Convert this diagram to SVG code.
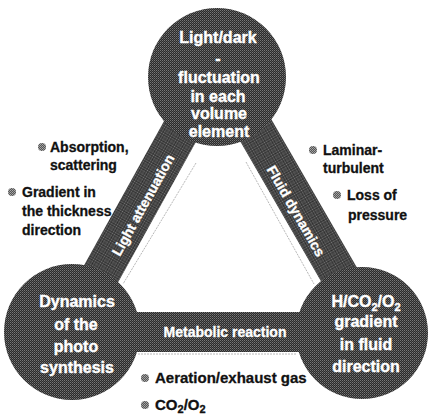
<svg xmlns="http://www.w3.org/2000/svg" width="430" height="414" viewBox="0 0 430 414">
<defs>
<pattern id="dither" width="2" height="2" patternUnits="userSpaceOnUse">
<rect width="2" height="2" fill="#2a2a2a"/>
<rect x="0" y="0" width="1" height="1" fill="#777"/>
<rect x="1" y="1" width="1" height="1" fill="#555"/>
</pattern>
<pattern id="dotfill" width="2" height="2" patternUnits="userSpaceOnUse">
<rect width="2" height="2" fill="#555"/>
<rect x="0" y="0" width="1" height="1" fill="#aaa"/>
<rect x="1" y="1" width="1" height="1" fill="#999"/>
</pattern>
</defs>
<style>
.shape{fill:url(#dither)}
.wt{fill:#fff;stroke:#fff;stroke-width:0.4;font-family:"Liberation Sans",Arial,sans-serif;font-weight:bold;font-size:16px;text-anchor:middle}
.bt{fill:#fff;stroke:#fff;stroke-width:0.3;font-family:"Liberation Sans",Arial,sans-serif;font-weight:bold;font-size:14px;text-anchor:middle}
.lab{fill:#111;stroke:#111;stroke-width:0.3;font-family:"Liberation Sans",Arial,sans-serif;font-weight:bold;font-size:14px}
.labb{fill:#111;stroke:#111;stroke-width:0.3;font-family:"Liberation Sans",Arial,sans-serif;font-weight:bold;font-size:15px}
.bul{fill:url(#dotfill)}
.shadow{stroke:#b8b8b8;stroke-width:1;stroke-dasharray:2 1;fill:none}
</style>
<rect width="430" height="414" fill="#fff"/>
<g id="connectors">
<line class="shadow" x1="196" y1="163" x2="123" y2="284"/>
<line class="shadow" x1="246" y1="162" x2="314" y2="284"/>
<line class="shadow" x1="138" y1="354" x2="297" y2="354"/>
<g id="bar-left">
<rect class="shape" x="-125" y="-19" width="250" height="38" transform="translate(142,200) rotate(-61)"/>
<text class="bt" transform="translate(143,205) rotate(-61)" y="5">Light attenuation</text>
</g>
<g id="bar-right">
<rect class="shape" x="-125" y="-19" width="250" height="38" transform="translate(296,200) rotate(60)"/>
<text class="bt" transform="translate(296,211) rotate(60)" y="5">Fluid dynamics</text>
</g>
<g id="bar-bottom">
<rect class="shape" x="115" y="312" width="200" height="40"/>
<text class="bt" x="225" y="337">Metabolic reaction</text>
</g>
</g>
<g id="node-top">
<circle class="shape" cx="217" cy="77" r="69"/>
<text class="wt" x="218" y="43">Light/dark</text>
<text class="wt" x="218" y="64">-</text>
<text class="wt" x="219" y="83">fluctuation</text>
<text class="wt" x="218" y="102">in each</text>
<text class="wt" x="219" y="119">volume</text>
<text class="wt" x="219" y="137">element</text>
</g>
<g id="node-left">
<circle class="shape" cx="72" cy="332" r="68"/>
<text class="wt" x="77" y="307">Dynamics</text>
<text class="wt" x="76" y="330">of the</text>
<text class="wt" x="76" y="352">photo</text>
<text class="wt" x="77" y="373">synthesis</text>
</g>
<g id="node-right">
<circle class="shape" cx="362" cy="333" r="66"/>
<text class="wt" x="366" y="307">H/CO<tspan font-size="11" dy="4">2</tspan><tspan dy="-4">/O</tspan><tspan font-size="11" dy="4">2</tspan></text>
<text class="wt" x="366" y="327">gradient</text>
<text class="wt" x="366" y="350">in fluid</text>
<text class="wt" x="366" y="372">direction</text>
</g>
<g id="labels">
<circle class="bul" cx="42" cy="147" r="4"/>
<text class="lab" x="50" y="152">Absorption,</text>
<text class="lab" x="50" y="170">scattering</text>
<circle class="bul" cx="12" cy="192" r="4"/>
<text class="lab" x="22" y="197">Gradient in</text>
<text class="lab" x="22" y="216">the thickness</text>
<text class="lab" x="22" y="235">direction</text>
<circle class="bul" cx="313" cy="150" r="4"/>
<text class="lab" x="323" y="155">Laminar-</text>
<text class="lab" x="323" y="173">turbulent</text>
<circle class="bul" cx="337" cy="195" r="4"/>
<text class="lab" x="347" y="200">Loss of</text>
<text class="lab" x="348" y="220">pressure</text>
<circle class="bul" cx="145" cy="378" r="4"/>
<text class="labb" x="155" y="383">Aeration/exhaust gas</text>
<circle class="bul" cx="145" cy="405" r="4"/>
<text class="labb" x="155" y="410">CO<tspan font-size="11" dy="3">2</tspan><tspan dy="-3">/O</tspan><tspan font-size="11" dy="3">2</tspan></text>
</g>
</svg>
